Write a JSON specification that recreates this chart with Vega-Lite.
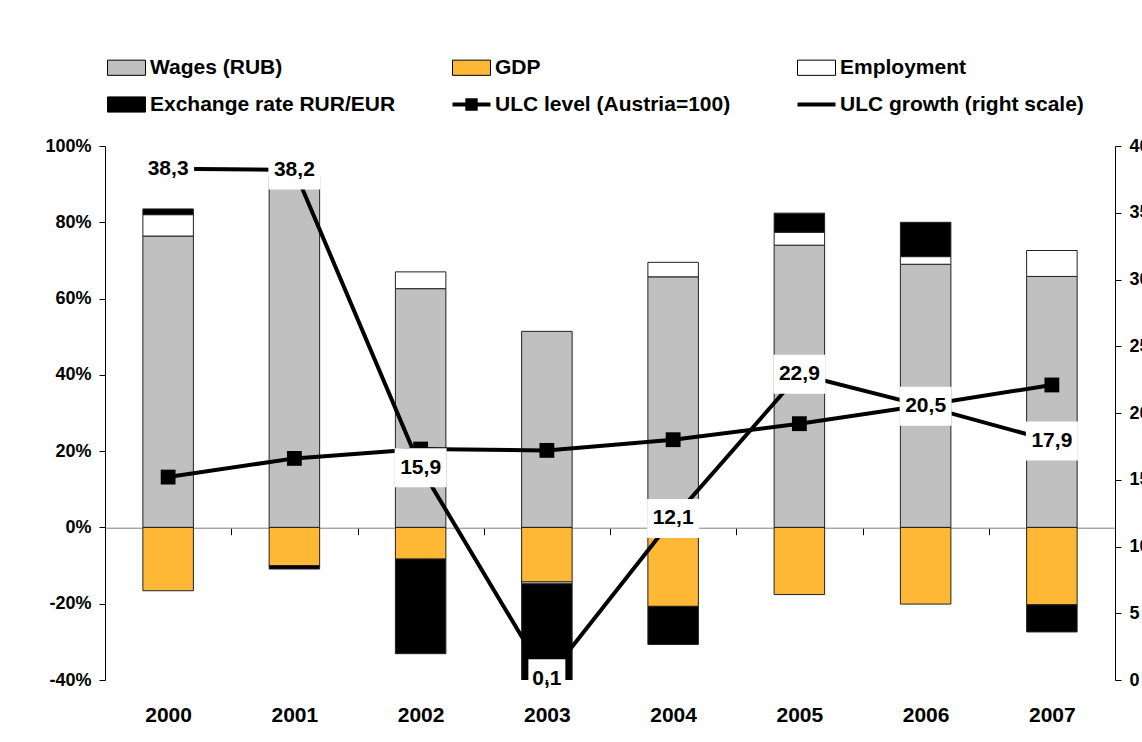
{
  "$schema": "https://vega.github.io/schema/vega-lite/v6.json",
  "width": 1010,
  "height": 534,
  "autosize": {"type": "none"},
  "padding": {"left": 105, "top": 146, "right": 27, "bottom": 62},
  "background": "white",
  "config": {
    "view": {"stroke": null},
    "font": "Liberation Sans",
    "axis": {"labelFont": "Liberation Sans", "labelFontWeight": "bold", "labelColor": "black", "domainColor": "black", "tickColor": "black", "grid": false}
  },
  "datasets": {
    "bars": [
      {"year": "2000", "series": "Wages (RUB)", "value": 76.4},
      {"year": "2000", "series": "Employment", "value": 5.6},
      {"year": "2000", "series": "Exchange rate RUR/EUR", "value": 1.5},
      {"year": "2000", "series": "GDP", "value": -16.6},
      {"year": "2001", "series": "Wages (RUB)", "value": 92.0},
      {"year": "2001", "series": "GDP", "value": -10.0},
      {"year": "2001", "series": "Exchange rate RUR/EUR", "value": -0.9},
      {"year": "2002", "series": "Wages (RUB)", "value": 62.6},
      {"year": "2002", "series": "Employment", "value": 4.4},
      {"year": "2002", "series": "GDP", "value": -8.3},
      {"year": "2002", "series": "Exchange rate RUR/EUR", "value": -24.8},
      {"year": "2003", "series": "Wages (RUB)", "value": 51.4},
      {"year": "2003", "series": "GDP", "value": -14.3},
      {"year": "2003", "series": "Employment", "value": -0.5},
      {"year": "2003", "series": "Exchange rate RUR/EUR", "value": -27.0},
      {"year": "2004", "series": "Wages (RUB)", "value": 65.7},
      {"year": "2004", "series": "Employment", "value": 3.8},
      {"year": "2004", "series": "GDP", "value": -20.7},
      {"year": "2004", "series": "Exchange rate RUR/EUR", "value": -10.0},
      {"year": "2005", "series": "Wages (RUB)", "value": 74.0},
      {"year": "2005", "series": "Employment", "value": 3.4},
      {"year": "2005", "series": "Exchange rate RUR/EUR", "value": 5.0},
      {"year": "2005", "series": "GDP", "value": -17.6},
      {"year": "2006", "series": "Wages (RUB)", "value": 69.0},
      {"year": "2006", "series": "Employment", "value": 2.0},
      {"year": "2006", "series": "Exchange rate RUR/EUR", "value": 9.0},
      {"year": "2006", "series": "GDP", "value": -20.1},
      {"year": "2007", "series": "Wages (RUB)", "value": 65.8},
      {"year": "2007", "series": "Employment", "value": 6.8},
      {"year": "2007", "series": "GDP", "value": -20.3},
      {"year": "2007", "series": "Exchange rate RUR/EUR", "value": -7.1}
    ],
    "ulc": [
      {"year": "2000", "series": "level", "v": 15.2},
      {"year": "2001", "series": "level", "v": 16.6},
      {"year": "2002", "series": "level", "v": 17.3},
      {"year": "2003", "series": "level", "v": 17.2},
      {"year": "2004", "series": "level", "v": 18.0},
      {"year": "2005", "series": "level", "v": 19.2},
      {"year": "2006", "series": "level", "v": 20.6},
      {"year": "2007", "series": "level", "v": 22.1},
      {"year": "2000", "series": "growth", "v": 38.3},
      {"year": "2001", "series": "growth", "v": 38.2},
      {"year": "2002", "series": "growth", "v": 15.9},
      {"year": "2003", "series": "growth", "v": 0.1},
      {"year": "2004", "series": "growth", "v": 12.1},
      {"year": "2005", "series": "growth", "v": 22.9},
      {"year": "2006", "series": "growth", "v": 20.5},
      {"year": "2007", "series": "growth", "v": 17.9}
    ]
  },
  "layer": [
    {
      "data": {"name": "bars"},
      "transform": [
        {"calculate": "indexof(['Wages (RUB)','GDP','Employment','Exchange rate RUR/EUR'], datum.series)", "as": "ord"}
      ],
      "mark": {"type": "bar", "clip": true, "stroke": "#222222", "strokeWidth": 1},
      "encoding": {
        "x": {
          "field": "year", "type": "nominal",
          "scale": {"paddingInner": 0.6, "paddingOuter": 0.3},
          "axis": {
            "orient": "bottom", "offset": -152.3, "domainColor": "#808080", "domainWidth": 1,
            "tickSize": 7, "tickOffset": -63.125, "labelOffset": 63.125,
            "labelPadding": 170, "labelFontSize": 21, "labelAngle": 0, "title": null
          }
        },
        "y": {
          "field": "value", "type": "quantitative", "stack": "zero",
          "scale": {"domain": [-40, 100], "nice": false},
          "axis": {
            "orient": "left", "values": [-40, -20, 0, 20, 40, 60, 80, 100],
            "labelExpr": "datum.value + '%'", "labelFontSize": 18, "tickSize": 6,
            "labelPadding": 8, "title": null
          }
        },
        "color": {
          "field": "series", "type": "nominal",
          "scale": {
            "domain": ["Wages (RUB)", "GDP", "Employment", "Exchange rate RUR/EUR", "ULC level (Austria=100)", "ULC growth (right scale)"],
            "range": ["#C0C0C0", "#FFB835", "#FFFFFF", "#000000", "#000000", "#000000"]
          },
          "legend": {
            "orient": "none", "legendX": 11, "legendY": -90, "direction": "horizontal",
            "columns": 3, "gridAlign": "all", "columnPadding": 48, "rowPadding": 13,
            "symbolSize": 1444, "labelFontSize": 21, "labelFontWeight": "bold",
            "labelFont": "Liberation Sans", "labelColor": "black", "labelOffset": 13, "labelLimit": 0,
            "title": null, "symbolStrokeColor": "black", "symbolStrokeWidth": 1, "symbolOpacity": 1,
            "encode": {
              "symbols": {
                "update": {
                  "shape": {"signal": "datum.value === 'ULC level (Austria=100)' ? 'M-1,0L1,0M-0.22,-0.22L0.22,-0.22L0.22,0.22L-0.22,0.22Z' : (datum.value === 'ULC growth (right scale)' ? 'M-1,0L1,0' : 'M-1,-0.4L1,-0.4L1,0.4L-1,0.4Z')"},
                  "strokeWidth": {"signal": "(datum.value === 'ULC level (Austria=100)' || datum.value === 'ULC growth (right scale)') ? 4 : 1"},
                  "stroke": {"value": "black"}
                }
              }
            }
          }
        },
        "order": {"field": "ord", "type": "quantitative"}
      }
    },
    {
      "data": {"name": "ulc"},
      "encoding": {
        "x": {
          "field": "year", "type": "nominal",
          "axis": {
            "orient": "bottom", "offset": -152.3, "domainColor": "#808080", "domainWidth": 1,
            "tickSize": 7, "tickOffset": -63.125, "labelOffset": 63.125,
            "labelPadding": 170, "labelFontSize": 21, "labelAngle": 0, "title": null
          }
        },
        "y": {
          "field": "v", "type": "quantitative",
          "scale": {"domain": [0, 40], "nice": false},
          "axis": {
            "orient": "right", "values": [0, 5, 10, 15, 20, 25, 30, 35, 40],
            "labelFontSize": 18, "tickSize": 6, "labelPadding": 8, "title": null
          }
        }
      },
      "layer": [
        {
          "transform": [{"filter": "datum.series === 'level'"}],
          "mark": {"type": "line", "color": "black", "strokeWidth": 4}
        },
        {
          "transform": [{"filter": "datum.series === 'level'"}],
          "mark": {"type": "point", "shape": "square", "filled": true, "size": 220, "color": "black", "opacity": 1}
        },
        {
          "transform": [{"filter": "datum.series === 'growth'"}],
          "mark": {"type": "line", "color": "black", "strokeWidth": 4}
        },
        {
          "transform": [{"filter": "datum.series === 'growth' && datum.year !== '2003'"}],
          "mark": {"type": "point", "shape": "M-1,-0.75L1,-0.75L1,0.75L-1,0.75Z", "filled": true, "color": "white", "size": 2704, "opacity": 1, "strokeWidth": 0, "clip": true}
        },
        {
          "transform": [{"filter": "datum.series === 'growth' && datum.year === '2003'"}],
          "mark": {"type": "point", "shape": "M-1,-1.054L1,-1.054L1,1.054L-1,1.054Z", "filled": true, "color": "white", "size": 1369, "opacity": 1, "strokeWidth": 0, "clip": true}
        },
        {
          "transform": [
            {"filter": "datum.series === 'growth'"},
            {"calculate": "replace(format(datum.v, '.1f'), '.', ',')", "as": "lab"}
          ],
          "mark": {"type": "text", "font": "Liberation Sans", "fontWeight": "bold", "fontSize": 21, "color": "black", "align": "center", "baseline": "middle"},
          "encoding": {"text": {"field": "lab", "type": "nominal"}}
        }
      ]
    }
  ],
  "resolve": {"scale": {"y": "independent"}}
}
